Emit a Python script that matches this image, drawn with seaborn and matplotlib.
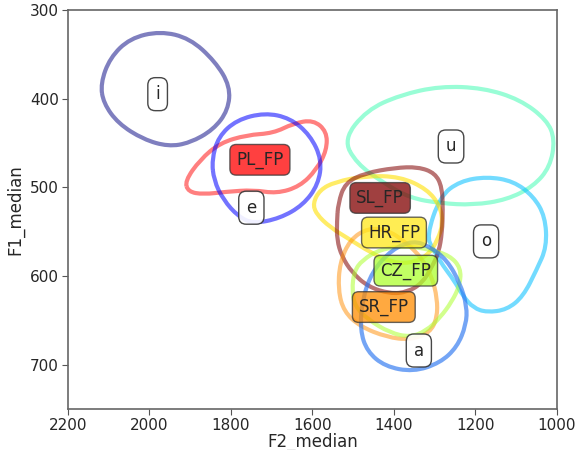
import matplotlib
matplotlib.use("Agg")
import matplotlib.pyplot as plt
import numpy as np
import seaborn as sns
from matplotlib.patches import PathPatch
from matplotlib.path import Path

# contour outlines (F2 Hz, F1 Hz)
i_f2 = [2120, 2097, 2048, 1974, 1901, 1839, 1802, 1807, 1843, 1901, 1954, 2015, 2077, 2113]
i_f1 = [383, 354, 332, 324, 332, 358, 386, 413, 435, 450, 454, 446, 428, 405]

e_f2 = [1847, 1831, 1786, 1717, 1655, 1606, 1577, 1586, 1623, 1680, 1745, 1782, 1819, 1842]
e_f1 = [469, 443, 424, 416, 422, 441, 469, 497, 520, 535, 541, 533, 514, 492]

u_f2 = [1524, 1467, 1385, 1287, 1181, 1091, 1025, 1005, 1017, 1058, 1123, 1205, 1287, 1361, 1426, 1492]
u_f1 = [446, 413, 396, 386, 388, 401, 424, 446, 477, 499, 514, 520, 518, 512, 495, 473]

o_f2 = [1320, 1287, 1238, 1172, 1107, 1058, 1029, 1025, 1050, 1083, 1123, 1172, 1205, 1230, 1254, 1279, 1304]
o_f1 = [555, 510, 493, 488, 493, 510, 533, 567, 593, 623, 638, 641, 636, 623, 604, 589, 570]

a_f2 = [1353, 1312, 1270, 1238, 1221, 1223, 1245, 1287, 1353, 1422, 1466, 1483, 1478, 1454, 1405]
a_f1 = [560, 567, 582, 608, 634, 655, 680, 698, 708, 702, 685, 661, 627, 595, 570]

pl_f2 = [1913, 1876, 1827, 1761, 1696, 1647, 1598, 1565, 1565, 1590, 1631, 1688, 1745, 1811, 1868, 1905]
pl_f1 = [493, 469, 450, 441, 439, 428, 424, 437, 458, 480, 499, 507, 503, 505, 508, 505]

sl_f2 = [1537, 1520, 1471, 1398, 1341, 1299, 1282, 1280, 1282, 1290, 1307, 1331, 1366, 1410, 1464, 1503, 1528, 1540, 1540]
sl_f1 = [518, 495, 484, 478, 477, 484, 500, 525, 551, 573, 590, 608, 618, 620, 612, 596, 578, 559, 539]

hr_f2 = [1599, 1582, 1545, 1469, 1385, 1319, 1287, 1280, 1292, 1317, 1361, 1410, 1459, 1508, 1557, 1591]
hr_f1 = [518, 503, 494, 487, 488, 502, 521, 540, 559, 577, 586, 584, 573, 559, 545, 530]

cz_f2 = [1503, 1498, 1478, 1434, 1373, 1312, 1263, 1236, 1238, 1258, 1287, 1321, 1361, 1410, 1464, 1496]
cz_f1 = [616, 595, 582, 570, 566, 570, 577, 591, 610, 629, 647, 662, 669, 664, 649, 634]

sr_f2 = [1537, 1533, 1508, 1464, 1417, 1373, 1331, 1307, 1294, 1294, 1312, 1361, 1417, 1483, 1523]
sr_f1 = [616, 585, 559, 546, 548, 561, 580, 601, 625, 647, 664, 672, 669, 657, 640]

vowels = ["i", "e", "u", "o", "a"]
vowel_f2 = [1980, 1750, 1260, 1174, 1339]
vowel_f1 = [395, 523, 454, 561, 684]

speakers = ["PL_FP", "SL_FP", "HR_FP", "CZ_FP", "SR_FP"]
speaker_f2 = [1729, 1434, 1400, 1371, 1425]
speaker_f1 = [469, 512, 551, 594, 635]

blobs = [
    (i_f2, i_f1, "navy", 0.5),
    (u_f2, u_f1, "mediumspringgreen", 0.4),
    (o_f2, o_f1, "deepskyblue", 0.55),
    (pl_f2, pl_f1, "red", 0.5),
    (e_f2, e_f1, "blue", 0.55),
    (hr_f2, hr_f1, "#ffe000", 0.6),
    (sl_f2, sl_f1, "maroon", 0.55),
    (sr_f2, sr_f1, "darkorange", 0.5),
    (cz_f2, cz_f1, "greenyellow", 0.55),
    (a_f2, a_f1, "#2a75f0", 0.65),
]
box_colors = {"PL_FP": "red", "SL_FP": "maroon", "HR_FP": "#ffe81a",
              "CZ_FP": "greenyellow", "SR_FP": "darkorange"}


def smooth_outline(f2, f1):
    # closed quadratic bezier: traced points act as control points
    pts = np.column_stack([f2, f1]).astype(float)
    mids = (pts + np.roll(pts, -1, axis=0)) / 2
    verts = [mids[-1]]
    codes = [Path.MOVETO]
    for k in range(len(pts)):
        verts += [pts[k], mids[k]]
        codes += [Path.CURVE3, Path.CURVE3]
    return Path(verts, codes)


sns.set_style("ticks")
plt.rcParams["font.family"] = ["DejaVu Sans"]

fig, ax = plt.subplots(figsize=(5.86, 4.5), dpi=100)
fig.subplots_adjust(left=0.116, right=0.9505, top=0.978, bottom=0.091)

for f2, f1, color, alpha in blobs:
    ax.add_patch(PathPatch(smooth_outline(f2, f1), facecolor="none", edgecolor=color,
                           alpha=alpha, linewidth=3))

for label, x, y in zip(vowels, vowel_f2, vowel_f1):
    ax.text(x, y, label, ha="center", va="center", fontsize=12, zorder=5,
            bbox={"boxstyle": "round,pad=0.45", "facecolor": "white", "edgecolor": "#333333", "alpha": 0.9})

for label, x, y in zip(speakers, speaker_f2, speaker_f1):
    ax.text(x, y, label, ha="center", va="center", fontsize=12, zorder=5,
            bbox={"boxstyle": "round,pad=0.38", "facecolor": box_colors[label],
                  "edgecolor": "#333333", "alpha": 0.75})

ax.set_xlim(2200, 1000)
ax.set_ylim(750, 300)
ax.set_xticks([2200, 2000, 1800, 1600, 1400, 1200, 1000])
ax.set_yticks([300, 400, 500, 600, 700])
ax.set_xlabel("F2_median", fontsize=12, labelpad=0)
ax.set_ylabel("F1_median", fontsize=12, labelpad=4)
ax.tick_params(labelsize=11, length=4, pad=2.5, color="#555555")
for spine in ax.spines.values():
    spine.set_color("#666666")
    spine.set_linewidth(1.2)

fig.savefig("out.png", dpi=100)
